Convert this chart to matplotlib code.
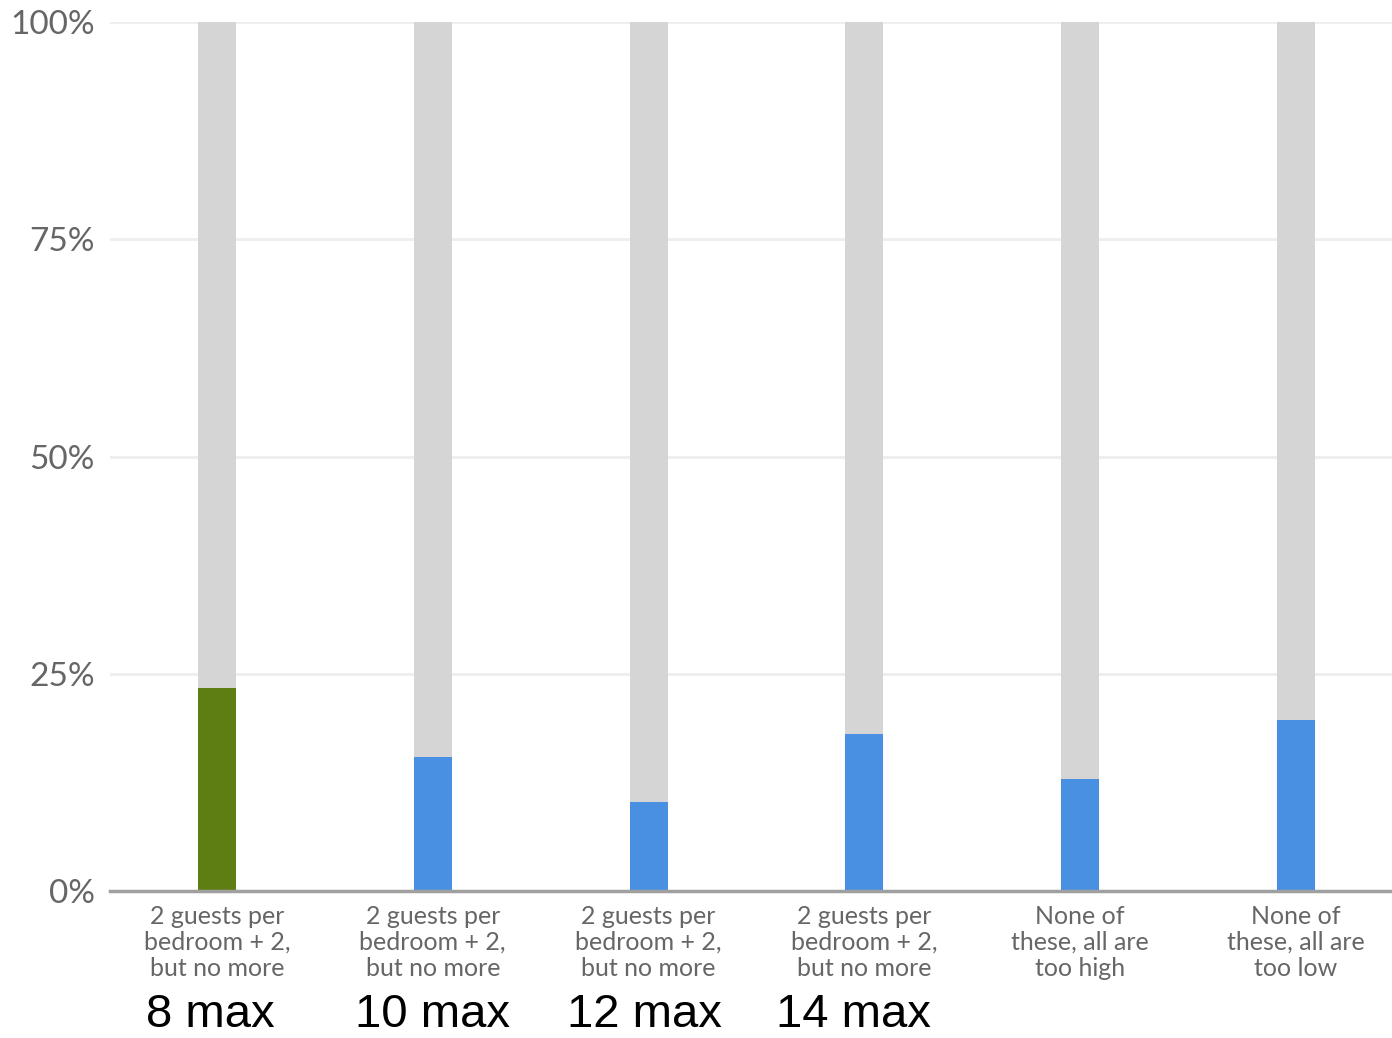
import matplotlib
matplotlib.use("Agg")
import matplotlib.pyplot as plt
from matplotlib.ticker import PercentFormatter

categories = ["2 guests per\nbedroom + 2,\nbut no more",
              "2 guests per\nbedroom + 2,\nbut no more",
              "2 guests per\nbedroom + 2,\nbut no more",
              "2 guests per\nbedroom + 2,\nbut no more",
              "None of\nthese, all are\ntoo high",
              "None of\nthese, all are\ntoo low"]
values = [23.4, 15.4, 10.2, 18.1, 12.9, 19.7]
bar_colors = ["#5e7d13", "#4a90e2", "#4a90e2", "#4a90e2", "#4a90e2", "#4a90e2"]
notes = ["8 max", "10 max", "12 max", "14 max"]
note_shift = [-0.03, 0.0, -0.02, -0.05]

fig = plt.figure(figsize=(13.92, 10.38), dpi=100)
ax = fig.add_axes([0.079, 0.1416, 0.921, 0.8372])

x = range(len(values))
ax.bar(x, [100] * len(values), width=0.176, color="#d5d5d5", zorder=2)
ax.bar(x, values, width=0.176, color=bar_colors, zorder=3)

ax.set_xlim(-0.496, 5.445)
ax.set_ylim(0, 100)
ax.set_yticks([0, 25, 50, 75, 100])
ax.yaxis.set_major_formatter(PercentFormatter(decimals=0))
ax.grid(axis="y", color="#eeeeee", linewidth=2, zorder=0)

for s in ["top", "right", "left"]:
    ax.spines[s].set_visible(False)
ax.spines["bottom"].set_color("#a0a0a0")
ax.spines["bottom"].set_linewidth(2.5)
ax.spines["bottom"].set_zorder(4)

ax.set_xticks(list(x))
ax.set_xticklabels(categories, fontfamily="Lato", fontsize=18, color="#666666",
                   linespacing=1.15)
ax.tick_params(axis="x", length=0, pad=10)
ax.tick_params(axis="y", length=0, pad=11, labelsize=24, labelcolor="#666666")
for t in ax.get_yticklabels():
    t.set_fontfamily("Lato")

# hand-written annotations under the first four groups
for i, (txt, dx) in enumerate(zip(notes, note_shift)):
    ax.text(i + dx, -15.6, txt, ha="center", va="baseline", fontsize=34,
            fontfamily="Liberation Sans", color="black", clip_on=False)

fig.savefig("out.png", dpi=100)
